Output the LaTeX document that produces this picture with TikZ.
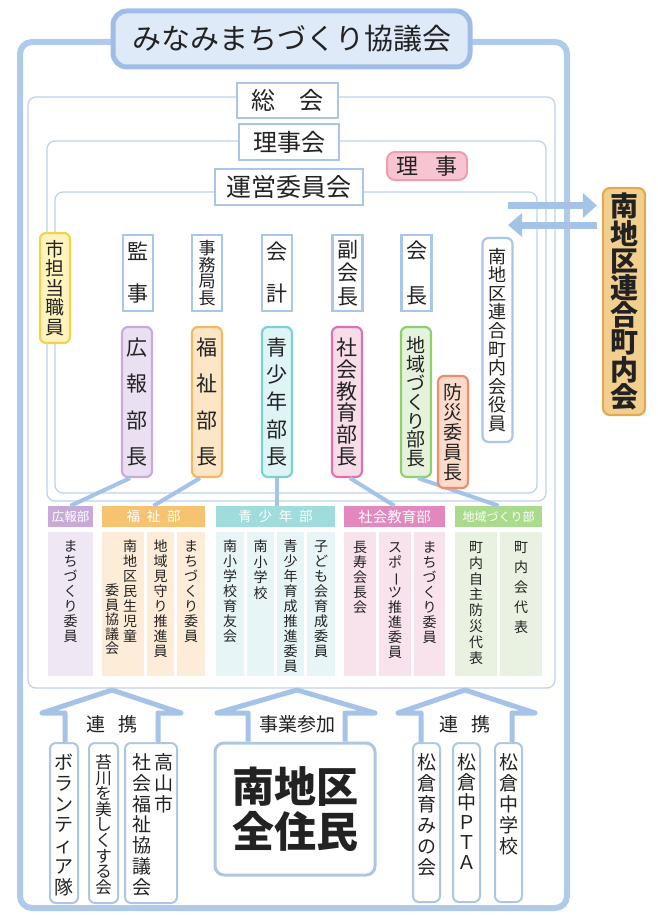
\documentclass[tikz,border=0pt]{standalone}
\usepackage{fontspec}
\setmainfont{Noto Sans CJK JP}
\usepackage{graphicx}
\usetikzlibrary{arrows.meta}
\newcommand\fs[1]{\fontsize{#1}{#1}\selectfont}
\makeatletter
\newcommand\vt[2][1.1em]{\vtop{\baselineskip=#1\relax\lineskiplimit=-\maxdimen\lineskip=0pt
  \@tfor\vt@c:=#2\do{\hbox to 1em{\vrule height .88em depth .12em width 0pt\hss\vt@c\hss}}}}
\makeatother
\newcommand\vbar{{\rotatebox[origin=c]{-90}{ー}}}
\definecolor{txt}{HTML}{222222}
\definecolor{outerc}{HTML}{B0CAEA}
\definecolor{framec}{HTML}{BED2EC}
\definecolor{posc}{HTML}{A9C5EA}
\definecolor{titlefill}{HTML}{DFEAF8}
\definecolor{titledraw}{HTML}{9EBEE7}
\definecolor{arrowc}{HTML}{A4C3E6}
\definecolor{rijifill}{HTML}{F7C5D1}
\definecolor{rijidraw}{HTML}{EE9DB3}
\definecolor{yelfill}{HTML}{FFF4BE}
\definecolor{yeldraw}{HTML}{F4D24A}
\definecolor{purfill}{HTML}{EAE0F2}
\definecolor{purdraw}{HTML}{C9AADD}
\definecolor{orafill}{HTML}{FDE6C6}
\definecolor{oradraw}{HTML}{F4B862}
\definecolor{cyafill}{HTML}{DFF4F4}
\definecolor{cyadraw}{HTML}{79D2D2}
\definecolor{magfill}{HTML}{F7DDEA}
\definecolor{magdraw}{HTML}{E070B2}
\definecolor{grefill}{HTML}{E5F3DC}
\definecolor{gredraw}{HTML}{8FD06E}
\definecolor{redfill}{HTML}{FBDCCB}
\definecolor{reddraw}{HTML}{F08C6C}
\definecolor{renfill}{HTML}{F2CF8E}
\definecolor{rendraw}{HTML}{E2AA55}
\definecolor{hpur}{HTML}{C8AAD9}
\definecolor{hora}{HTML}{F6C470}
\definecolor{hcya}{HTML}{A0DCDC}
\definecolor{hmag}{HTML}{E388BE}
\definecolor{hgre}{HTML}{AADB8C}
\definecolor{cpur}{HTML}{EFE7F4}
\definecolor{cora}{HTML}{FDEDD8}
\definecolor{ccya}{HTML}{E7F5F6}
\definecolor{cmag}{HTML}{F8E2EC}
\definecolor{cgre}{HTML}{E9F2E1}
\definecolor{botdraw}{HTML}{AFC6E2}
\tikzset{
  outerline/.style={draw=outerc, line width=6, rounded corners=12},
  frameline/.style={draw=framec, line width=1.3, rounded corners=8},
  hbox/.style={draw=posc, line width=2.2, fill=white, inner sep=0, text=txt},
  posbox/.style={draw=posc, line width=2.2, fill=white, inner sep=0, text=txt, minimum width=30, minimum height=76, font=\fs{21}},
  chobox/.style={line width=2.2, rounded corners=6, inner sep=0, text=txt, minimum width=30, minimum height=150, font=\fs{21}},
  hdr/.style={inner sep=0, text=white, minimum height=21},
  colbox/.style={inner sep=0, minimum height=144},
  vtxt/.style={anchor=north, inner sep=0, text=txt},
  botbox/.style={draw=botdraw, line width=2, rounded corners=6, fill=white, inner sep=0},
  conn/.style={draw=arrowc, line width=4},
  harrow/.style={draw=arrowc, line width=7},
  blockarrow/.style={draw=arrowc, line width=5, fill=white, line join=round},
  lbl/.style={inner sep=0, text=txt, font=\fs{19}}
}
\begin{document}
\begin{tikzpicture}[x=1pt,y=-1pt]
\useasboundingbox[fill=white] (0,0) rectangle (657,915);
% frames
\draw[outerline] (20,42) rectangle (567,908);
\draw[frameline] (28,97) rectangle (555,688);
\draw[frameline] (47,141) rectangle (546,501);
\draw[frameline] (55,192) rectangle (537,493);
% title and council boxes
\node[draw=titledraw, fill=titlefill, line width=5, rounded corners=14, minimum width=357, minimum height=56, inner sep=0, text=txt, font=\fs{29}] (title) at (291.5,39) {みなみまちづくり協議会};
\node[hbox, minimum width=101, minimum height=35, font=\fs{24}] (sokai) at (287.5,100.5) {総\hspace{1em}会};
\node[hbox, minimum width=100, minimum height=36, font=\fs{24}] (rijikai) at (289,142) {理事会};
\node[hbox, minimum width=148, minimum height=36, font=\fs{25}] (uneikai) at (289,187) {運営委員会};
\node[draw=rijidraw, fill=rijifill, line width=2, rounded corners=8, minimum width=80, minimum height=28, inner sep=0, text=txt, font=\fs{22}] (riji) at (427,166) {理\hspace{0.8em}事};
% officer boxes
\node[posbox] (kanji) at (138,273) {\vt[42pt]{監事}};
\node[posbox, font=\fs{17}] (jimu) at (207,273) {\vt[16.5pt]{事務局長}};
\node[posbox] (kaikei) at (277,273) {\vt[42pt]{会計}};
\node[posbox] (fuku) at (347.5,273) {\vt[23.5pt]{副会長}};
\node[posbox] (kaicho) at (416.5,273) {\vt[45pt]{会長}};
\node[chobox, draw=yeldraw, fill=yelfill, minimum height=110, font=\fs{19}] (shi) at (55,288) {\vt[19.5pt]{市担当職員}};
\node[chobox, draw=posc, fill=white, minimum height=204, font=\fs{18}] (yakuin) at (497.5,340) {\vt[18.6pt]{南地区連合町内会役員}};
\node[draw=rendraw, fill=renfill, line width=2.2, rounded corners=7, inner sep=0, text=txt, minimum width=42, minimum height=227, font=\fs{28}\bfseries] (rengo) at (624,301.5) {\vt[27.2pt]{南地区連合町内会}};
% department heads
\node[chobox, draw=purdraw, fill=purfill] (kocho) at (137,402) {\vt[36.3pt]{広報部長}};
\node[chobox, draw=oradraw, fill=orafill] (fucho) at (207,402) {\vt[36.3pt]{福祉部長}};
\node[chobox, draw=cyadraw, fill=cyafill] (seicho) at (277,402) {\vt[27.3pt]{青少年部長}};
\node[chobox, draw=magdraw, fill=magfill] (shacho) at (347,402) {\vt[21.8pt]{社会教育部長}};
\node[chobox, draw=gredraw, fill=grefill, font=\fs{19}] (chicho) at (416,402) {\vt[18.8pt]{地域づくり部長}};
% department headers
\node[hdr, fill=hpur, minimum width=45, font=\fs{12.5}] (hko) at (70.5,516.5) {広報部};
\node[hdr, fill=hora, minimum width=103, font=\fs{13.5}] (hfu) at (153.5,516.5) {福\hspace{0.5em}祉\hspace{0.5em}部};
\node[hdr, fill=hcya, minimum width=119, font=\fs{13.5}] (hse) at (275.5,516.5) {青\hspace{0.5em}少\hspace{0.5em}年\hspace{0.5em}部};
\node[hdr, fill=hmag, minimum width=101, font=\fs{14.5}] (hsh) at (394.5,516.5) {社会教育部};
\node[hdr, fill=hgre, minimum width=87, font=\fs{12}] (hch) at (498.5,516.5) {地域づくり部};
% department columns
\node[colbox, fill=cpur, minimum width=45] (c1) at (70.5,604) {};
\node[colbox, fill=cora, minimum width=42] (c2) at (123,604) {};
\node[colbox, fill=cora, minimum width=27] (c3) at (160.5,604) {};
\node[colbox, fill=cora, minimum width=28] (c4) at (191,604) {};
\node[colbox, fill=ccya, minimum width=28] (c5) at (230,604) {};
\node[colbox, fill=ccya, minimum width=27] (c6) at (260.5,604) {};
\node[colbox, fill=ccya, minimum width=27] (c7) at (290.5,604) {};
\node[colbox, fill=ccya, minimum width=28] (c8) at (321,604) {};
\node[colbox, fill=cmag, minimum width=32] (c9) at (360,604) {};
\node[colbox, fill=cmag, minimum width=32] (c10) at (395,604) {};
\node[colbox, fill=cmag, minimum width=31] (c11) at (429.5,604) {};
\node[colbox, fill=cgre, minimum width=42] (c12) at (476,604) {};
\node[colbox, fill=cgre, minimum width=42] (c13) at (521,604) {};
\begin{scope}[every node/.style={vtxt, font=\fs{14}}]
\node (t1) at (70.5,539) {\vt[15pt]{まちづくり委員}};
\node (t2a) at (130,539) {\vt[15pt]{南地区民生児童}};
\node (t2b) at (112,583) {\vt[14.6pt]{委員協議会}};
\node (t3) at (160.5,539) {\vt[15pt]{地域見守り推進員}};
\node (t4) at (191,539) {\vt[15pt]{まちづくり委員}};
\node (t5) at (230,539) {\vt[15pt]{南小学校育友会}};
\node (t6) at (260.5,539) {\vt[15.6pt]{南小学校}};
\node (t7) at (290.5,539) {\vt[15pt]{青少年育成推進委員}};
\node (t8) at (321,539) {\vt[15pt]{子ども会育成委員}};
\node (t9) at (360,540) {\vt[15pt]{長寿会長会}};
\node (t10) at (395,540) {\vt[15pt]{スポ\vbar ツ推進委員}};
\node (t11) at (429.5,540) {\vt[15pt]{まちづくり委員}};
\node (t12) at (476,540) {\vt[15.8pt]{町内自主防災代表}};
\node (t13) at (521,540) {\vt[20pt]{町内会代表}};
\end{scope}
% connectors
\draw[conn] ([xshift=-7]kocho.south) -- (hko.north);
\draw[conn] ([xshift=-7]fucho.south) -- (hfu.north);
\draw[conn] (seicho.south) -- (seicho.south |- hse.north);
\draw[conn] ([xshift=3]shacho.south) -- (hsh.north);
\draw[conn] ([xshift=2]chicho.south) -- (hch.north);
\node[chobox, draw=reddraw, fill=redfill, minimum height=112, font=\fs{19}] (bosai) at (453,432) {\vt[20pt]{防災委員長}};
% horizontal arrows
\coordinate (ha) at (508,205.5);
\coordinate (hb) at (508,225);
\draw[harrow, -{Triangle[length=14pt,width=24pt]}] (ha) -- ([xshift=-5]ha -| rengo.west);
\draw[harrow, -{Triangle[length=14pt,width=23pt]}] ([xshift=-5]hb -| rengo.west) -- (hb);
% bottom boxes
\node[botbox, minimum width=28, minimum height=160] (vol) at (64,823) {};
\node[botbox, minimum width=29, minimum height=160] (koke) at (103.5,823) {};
\node[botbox, minimum width=52, minimum height=160] (shakyo) at (151,823) {};
\node[botbox, line width=3, rounded corners=9, minimum width=160, minimum height=132] (jumin) at (295,809) {};
\node[botbox, minimum width=27, minimum height=159] (hagu) at (426.5,822.5) {};
\node[botbox, minimum width=27, minimum height=159] (pta) at (466.5,822.5) {};
\node[botbox, minimum width=27, minimum height=159] (matchu) at (508.5,822.5) {};
\begin{scope}[every node/.style={vtxt, font=\fs{19}}]
\node (volt) at (64,752.5) {\vt[20.8pt]{ボランティア隊}};
\node[font=\fs{16.5}] (koket) at (103.5,753.7) {\vt[15.6pt]{苔川を美しくする会}};
\node (shakyot1) at (164,752.5) {\vt[20.8pt]{高山市}};
\node (shakyot2) at (142,752.5) {\vt[20.8pt]{社会福祉協議会}};
\node (hagut) at (426.5,752.5) {\vt[21pt]{松倉育みの会}};
\node (ptat) at (466.5,752.5) {\vt[20pt]{松倉中ＰＴＡ}};
\node (matchut) at (508.5,752.5) {\vt[21pt]{松倉中学校}};
\end{scope}
\node[inner sep=0, text=txt, font=\fs{42}\bfseries, align=center] (jumint) at (jumin.center) {南地区\\[3pt]全住民};
% block arrows
\draw[blockarrow] (vol.north -| 65,0) -- (65,713) -- (42,713) -- (112,690) -- (181,713) -- (158,713) -- (shakyo.north -| 158,0);
\draw[blockarrow] (jumin.north -| 248,0) -- (248,713) -- (217,713) -- (297,690) -- (375,713) -- (345,713) -- (jumin.north -| 345,0);
\draw[blockarrow] (hagu.north -| 421,0) -- (421,713) -- (398,713) -- (465,690) -- (535,713) -- (512,713) -- (matchu.north -| 512,0);
\node[lbl] (renkei1) at (112,724) {連\hspace{0.7em}携};
\node[lbl] (jigyo) at (297,724) {事業参加};
\node[lbl] (renkei2) at (465,724) {連\hspace{0.7em}携};
\end{tikzpicture}
\end{document}
